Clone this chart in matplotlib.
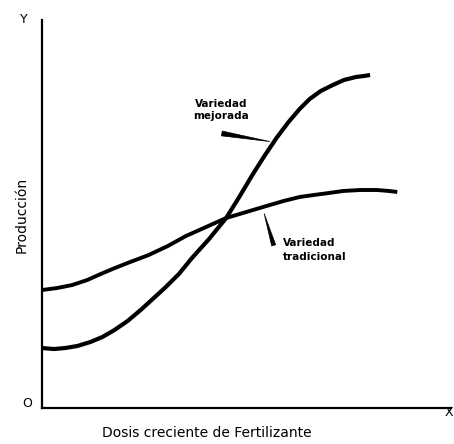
import matplotlib.pyplot as plt

# curvas (unidades arbitrarias)
x_trad = [0, 15, 30, 45, 56, 70, 85, 106, 125, 143, 163, 183, 203, 223, 240, 256, 270, 285, 299, 316, 333, 345, 353]
y_trad = [118, 120, 123, 128, 133, 139, 145, 153, 162, 172, 181, 190, 196, 202, 207, 211, 213, 215, 217, 218, 218, 217, 216]

x_mej = [0, 12, 23, 35, 48, 60, 72, 85, 98, 110, 123, 136, 149, 166, 183, 196, 209, 221, 233, 245, 256, 266, 277, 289, 300, 312, 320, 326]
y_mej = [60, 59, 60, 62, 66, 71, 78, 87, 98, 109, 121, 134, 150, 169, 190, 211, 233, 252, 270, 286, 299, 309, 317, 323, 328, 331, 332, 333]

fig = plt.figure(figsize=(4.54, 4.44), dpi=100)
ax = fig.add_axes([0.0925, 0.081, 0.9, 0.874])

ax.plot(x_trad, y_trad, color='black', lw=2.8, solid_capstyle='butt', solid_joinstyle='round')
ax.plot(x_mej, y_mej, color='black', lw=3.0, solid_capstyle='butt', solid_joinstyle='round')

ax.set_xlim(0, 406)
ax.set_ylim(0, 388)
ax.set_xticks([])
ax.set_yticks([])
for s in ['top', 'right']:
    ax.spines[s].set_visible(False)
ax.spines['left'].set_linewidth(1.6)
ax.spines['bottom'].set_linewidth(1.6)

# etiquetas de las curvas
ax.text(178, 298, 'Variedad\nmejorada', fontsize=7.5, fontweight='bold', ha='center', va='center', linespacing=1.3)
ax.annotate('', xy=(229, 266), xytext=(176, 275),
            arrowprops=dict(arrowstyle='wedge,tail_width=0.35', color='black', lw=0.5))
ax.text(239, 158, 'Variedad\ntradicional', fontsize=7.5, fontweight='bold', ha='left', va='center', linespacing=1.5)
ax.annotate('', xy=(220, 197), xytext=(231, 160),
            arrowprops=dict(arrowstyle='wedge,tail_width=0.3', color='black', lw=0.5))

fig.text(0.053, 0.955, 'Y', fontsize=9, ha='center', va='center')
fig.text(0.06, 0.092, 'O', fontsize=9, ha='center', va='center')
fig.text(0.988, 0.07, 'X', fontsize=9, ha='center', va='center')
fig.text(0.048, 0.515, 'Producción', fontsize=10, rotation=90, ha='center', va='center')
fig.text(0.455, 0.025, 'Dosis creciente de Fertilizante', fontsize=10, ha='center', va='center')

fig.savefig('out.png', dpi=100)
